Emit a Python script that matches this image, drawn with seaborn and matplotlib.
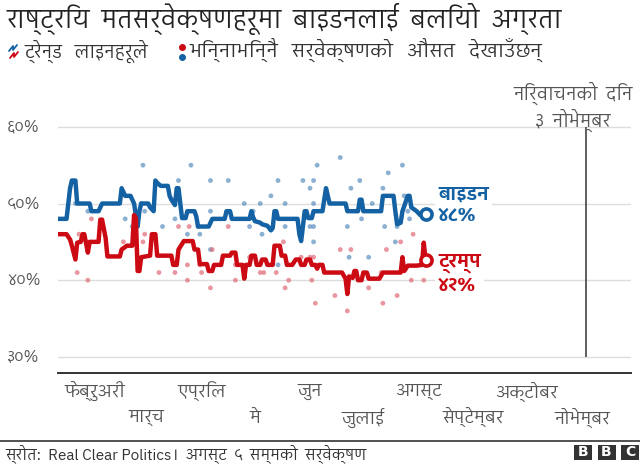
import numpy as np
import pandas as pd
import seaborn as sns
import matplotlib.pyplot as plt
import matplotlib.transforms as mtransforms
from matplotlib import font_manager
from matplotlib.patches import Rectangle
from matplotlib.lines import Line2D

# === Trend lines (day of year 2020, percent) ===
biden_days = [10, 15, 17, 18, 20, 21, 28, 29, 33, 34, 35, 45, 46, 48, 51, 52, 53, 55, 56, 57,
              61, 62, 64, 65, 66, 68, 72, 73, 74, 76, 77, 78, 79, 80, 82, 83, 87, 88, 89, 95,
              97, 104, 105, 107, 108, 118, 119, 120, 121, 124, 125, 128, 130, 131, 132, 133, 134, 145, 146, 147,
              148, 149, 150, 151, 153, 154, 159, 161, 162, 163, 172, 173, 179, 180, 181, 182, 192, 193, 199, 200,
              201, 203, 204, 207, 208, 209, 212, 214, 217]
biden_trend = [48, 48, 52, 53, 53, 50, 50, 49, 49, 49.5, 50, 50, 52, 51, 51, 50.5, 50, 47, 49, 50,
               50, 49.5, 49, 53, 52.7, 52.3, 52.3, 51, 50.5, 49.8, 52, 52, 50, 48.1, 48.1, 49, 49, 48.3, 47, 47,
               48, 48, 49, 49, 48, 48, 49, 48.2, 47.7, 47.5, 47.3, 47.1, 46.5, 46.8, 49, 49, 48, 48, 46, 45.1,
               47, 49, 49, 48.1, 48.1, 49, 49, 52, 51, 50, 50, 49, 49, 50.5, 50.5, 49, 49, 51, 51, 49,
               47.3, 47.5, 49, 51, 51, 49.5, 49, 48.5, 48.6]

trump_days = [10, 15, 17, 18, 20, 21, 23, 24, 25, 27, 28, 33, 34, 35, 37, 38, 45, 46, 49, 52,
              53, 54, 55, 56, 57, 62, 63, 65, 66, 74, 75, 77, 78, 81, 86, 87, 89, 90, 94, 95,
              97, 98, 102, 103, 107, 108, 110, 111, 114, 115, 116, 118, 119, 121, 122, 124, 125, 127, 128, 131,
              132, 135, 136, 138, 139, 142, 144, 146, 147, 149, 150, 152, 153, 155, 156, 157, 159, 160, 170, 172,
              173, 174, 176, 177, 178, 179, 181, 182, 184, 185, 191, 193, 203, 204, 205, 207, 212, 215, 216, 217]
trump_trend = [46, 46, 45.3, 44.5, 42.7, 44.9, 45, 46, 46, 43.6, 45, 45, 47.9, 47.9, 45.5, 43.1, 43.1, 44, 44.5, 44.5,
               48.5, 48.1, 41.2, 41.2, 43, 43.2, 46, 46, 43.2, 43.2, 42, 42, 44, 45.1, 45.1, 44, 44, 42.1, 42.1, 41.2,
               41.2, 42, 42, 43.2, 43.2, 43.6, 43.6, 42, 42, 40.2, 42, 42, 43.2, 43.2, 42, 42, 42.7, 42.7, 42, 42,
               44.5, 44.5, 43.2, 43.2, 42, 42, 42.7, 42.7, 42, 42, 42.7, 42.7, 42, 42, 41.5, 42, 42, 41, 41, 40.2,
               38.2, 40.5, 40.3, 41.2, 41.2, 40, 40, 41, 41, 40.2, 40.2, 41, 41, 43, 41.2, 41.9, 41.9, 42, 44.9, 42.7]

# === Individual polls ===
biden_poll_days = [58, 85, 96, 106, 78, 134, 148, 154, 156, 152, 130, 115, 124, 138, 154, 20, 57, 27, 96, 120,
                   59, 48, 76, 52, 69, 89, 118, 138, 152, 154, 83, 90, 125, 154, 96, 119, 134, 169, 204, 180,
                   196, 175, 193, 205, 187, 207, 208, 173, 194, 201, 181, 200, 174, 185]
biden_polls = [55, 55, 53, 53, 53, 53, 53, 53, 55, 52, 51, 50, 50, 50, 50, 50, 50, 49, 49, 49,
               49, 48, 48, 47, 47, 47, 47, 47, 47, 47, 46, 46, 46, 45, 44, 43, 42, 56, 55, 53,
               54, 52, 52, 51, 50, 49, 48, 47, 47, 47, 48, 45, 43, 43]

trump_poll_days = [29, 78, 84, 106, 22, 59, 47, 58, 137, 97, 118, 147, 154, 152, 83, 90, 110, 21, 67, 76,
                   91, 124, 126, 133, 27, 83, 110, 140, 153, 96, 138, 155, 210, 169, 175, 195, 203, 209, 216, 185,
                   201, 166, 193, 173, 192]
trump_polls = [48, 47, 47, 47, 46, 46, 45, 45, 45, 44, 43, 43, 43, 43, 42, 42, 42, 41, 41, 41,
               41, 41, 41, 41, 40, 40, 40, 40, 40, 39, 39, 37, 46, 44, 44, 44, 45, 40, 40, 39,
               38, 38, 37, 36, 41]

month_days = [31, 60, 91, 121, 152, 182, 213, 244, 274, 305]
month_labels = ["फेब्रुअरी", "मार्च", "एप्रिल", "मे", "जुन", "जुलाई", "अगस्ट",
                "सेप्टेम्बर", "अक्टोबर", "नोभेम्बर"]
y_ticks = [30, 40, 50, 60]
y_labels = ["३०%", "४०%", "५०%", "६०%"]
election_day = 307

BLUE = "#1462a3"
RED = "#cc0a14"
BLUE_DOT = "#5b8fbf"
RED_DOT = "#df6b78"
GREY = "#555555"


def find_devanagari_font():
    # pick a proportional sans font that has Devanagari glyphs
    from fontTools.ttLib import TTFont
    best, best_score = None, -999
    for entry in font_manager.fontManager.ttflist:
        try:
            tt = TTFont(entry.fname, fontNumber=0, lazy=True)
            cmap = tt.getBestCmap() or {}
            fixed = tt["post"].isFixedPitch if "post" in tt else 0
        except Exception:
            continue
        if 0x0915 not in cmap or 0x0966 not in cmap:
            continue
        name = entry.name.lower()
        score = 0
        if "devanagari" in name:
            score += 10
        if "sans" in name:
            score += 4
        if "ui" in name.split():
            score -= 1
        if "mono" in name or fixed:
            score -= 30
        if "serif" in name:
            score -= 3
        if score > best_score:
            best, best_score = entry.name, score
    return best


sns.set_style("white")
deva = find_devanagari_font()
families = [deva, "DejaVu Sans"] if deva else ["DejaVu Sans"]
plt.rcParams["font.family"] = families

trend = pd.concat([
    pd.DataFrame({"day": biden_days, "pct": biden_trend, "who": "Biden"}),
    pd.DataFrame({"day": trump_days, "pct": trump_trend, "who": "Trump"}),
])
polls = pd.concat([
    pd.DataFrame({"day": biden_poll_days, "pct": biden_polls, "who": "Biden"}),
    pd.DataFrame({"day": trump_poll_days, "pct": trump_polls, "who": "Trump"}),
])
palette = {"Biden": BLUE, "Trump": RED}
dot_palette = {"Biden": BLUE_DOT, "Trump": RED_DOT}

fig = plt.figure(figsize=(6.4, 4.66), dpi=100)
ax = fig.add_axes([58 / 640, 1 - 373 / 466, (631 - 58) / 640, (373 - 100) / 466])

for v in y_ticks:
    ax.axhline(v, color="#dddddd", lw=1, zorder=0)

sns.scatterplot(data=polls, x="day", y="pct", hue="who", palette=dot_palette,
                s=12, alpha=0.7, linewidth=0, legend=False, ax=ax, zorder=2)
sns.lineplot(data=trend, x="day", y="pct", hue="who", palette=palette,
             lw=3.2, estimator=None, sort=False, legend=False, ax=ax, zorder=3)

for days, vals, col in [(biden_days, biden_trend, BLUE), (trump_days, trump_trend, RED)]:
    ax.plot(days[-1], vals[-1], "o", ms=8, mfc="white", mec=col, mew=2.6, zorder=4)

ax.vlines(election_day, 30, 60, color="#333333", lw=1.1, zorder=1)

ax.set_xlim(10.2, 332.6)
ax.set_ylim(27.9, 63.5)
for side in ["top", "right", "left"]:
    ax.spines[side].set_visible(False)
ax.spines["bottom"].set_color("#333333")
ax.spines["bottom"].set_linewidth(1.4)
ax.set_xticks(month_days)
ax.set_yticks([])
ax.tick_params(axis="x", length=5, width=1.3, color="#333333", labelbottom=False)
ax.set_xlabel("")
ax.set_ylabel("")

# month labels in two staggered rows
tx = mtransforms.blended_transform_factory(ax.transData, fig.transFigure)
for i, (d, lab) in enumerate(zip(month_days, month_labels)):
    row_y = 392 if i % 2 == 0 else 418
    ax.text(d, 1 - row_y / 466, lab, transform=tx, ha="center", va="center",
            fontsize=12.5, color=GREY, clip_on=False)

ty = mtransforms.blended_transform_factory(fig.transFigure, ax.transData)
for v, lab in zip(y_ticks, y_labels):
    ax.text(7 / 640, v, lab, transform=ty, ha="left", va="center", fontsize=11.5, color=GREY)

# end labels
ax.text(224, 49.75, "बाइडन\n४८%", color=BLUE, fontsize=13.5, fontweight="bold",
        ha="left", va="center", linespacing=1.2, zorder=5,
        bbox=dict(facecolor="white", edgecolor="none", pad=2))
ax.text(224, 40.8, "ट्रम्प\n४२%", color=RED, fontsize=13.5, fontweight="bold",
        ha="left", va="center", linespacing=1.2, zorder=5,
        bbox=dict(facecolor="white", edgecolor="none", pad=2))

ax.text(election_day - 7, 62.6, "निर्वाचनको  दिन\n३  नोभेम्बर", ha="center", va="center",
        fontsize=13, color=GREY, linespacing=1.2, clip_on=False)

# titles
fig.text(6 / 640, 1 - 19 / 466, "राष्ट्रिय  मतसर्वेक्षणहरूमा  बाइडनलाई  बलियो  अग्रता",
         fontsize=18, color="#222222", ha="left", va="center")
fig.text(24 / 640, 1 - 51 / 466, "ट्रेन्ड   लाइनहरूले", fontsize=13, color="#333333",
         ha="left", va="center")
fig.text(189 / 640, 1 - 51 / 466, "भिन्नाभिन्नै   सर्वेक्षणको   औसत   देखाउँछन्", fontsize=14,
         color="#333333", ha="left", va="center")

# little legend icons in the subtitle
def fig_line(xs, ys, col):
    fig.add_artist(Line2D([x / 640 for x in xs], [1 - y / 466 for y in ys],
                          color=col, lw=1.3, transform=fig.transFigure))

fig_line([9, 13, 13, 17], [51, 46, 50, 45], BLUE)
fig_line([10, 14, 14, 18], [58, 53, 57, 52], RED)
fig.add_artist(Line2D([182 / 640], [1 - 47 / 466], marker="o", ms=4, color=RED, lw=0,
                      transform=fig.transFigure))
fig.add_artist(Line2D([182 / 640], [1 - 57 / 466], marker="o", ms=4, color=BLUE, lw=0,
                      transform=fig.transFigure))

# footer
fig.add_artist(Line2D([0, 1], [1 - 441 / 466] * 2, color="#333333", lw=1.2,
                      transform=fig.transFigure))
fig.text(5 / 640, 1 - 454 / 466, "स्रोत:  Real Clear Politics।  अगस्ट  ५  सम्मको  सर्वेक्षण",
         fontsize=11, color="#333333", ha="left", va="center")
for i, letter in enumerate("BBC"):
    x0 = 574 + i * 23.5
    fig.add_artist(Rectangle((x0 / 640, 1 - 460 / 466), 18 / 640, 15 / 466,
                             transform=fig.transFigure, facecolor="#333333", edgecolor="none"))
    fig.text((x0 + 9) / 640, 1 - 452.5 / 466, letter, family="DejaVu Sans", fontweight="bold",
             fontsize=10, color="white", ha="center", va="center")

fig.savefig("out.png", dpi=100)
